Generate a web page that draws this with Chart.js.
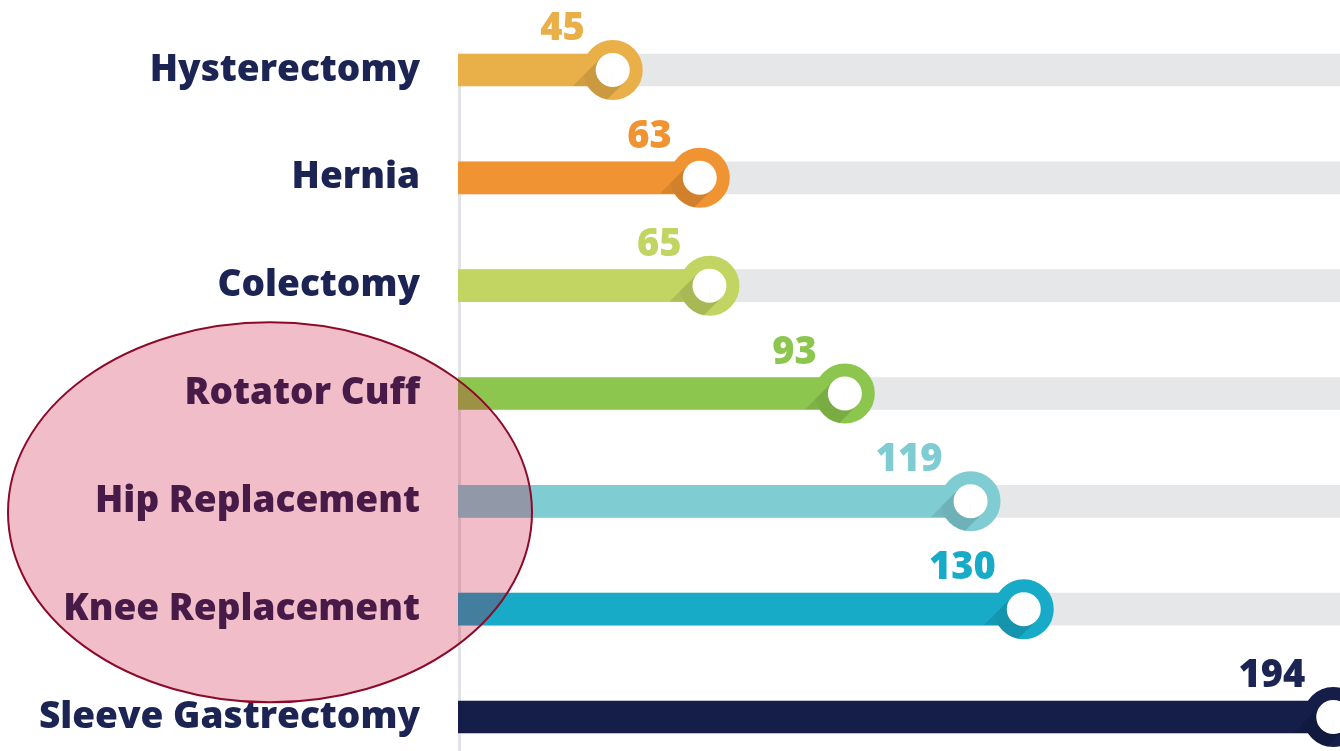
<!DOCTYPE html>
<html>
<head>
<meta charset="utf-8">
<style>
  html, body { margin: 0; padding: 0; background: #fff; overflow: hidden; }
  #wrap { position: relative; width: 1340px; height: 751px; }
</style>
<script src="https://cdn.jsdelivr.net/npm/chart.js@4.4.0/dist/chart.umd.min.js"></script>
</head>
<body>
<div id="wrap"><canvas id="chart"></canvas></div>
<script>
// ---------- DATA ----------
const procedures = ["Hysterectomy", "Hernia", "Colectomy", "Rotator Cuff", "Hip Replacement", "Knee Replacement", "Sleeve Gastrectomy"];
const cases = [45, 63, 65, 93, 119, 130, 194];
const barColors = ["#e9b04a", "#f09433", "#c2d461", "#8dc64f", "#7fcdd3", "#17abc7", "#141e48"];
const valueColors = ["#e9b04a", "#f09433", "#c2d461", "#8dc64f", "#7fcdd3", "#17abc7", "#1b2452"];
const highlighted = ["Rotator Cuff", "Hip Replacement", "Knee Replacement"];
const X_MIN = 13, X_MAX = 195.4;

const NAVY = "#1b2452";
const FONT = "'Open Sans'";
const RING_OUT = 30, RING_IN = 17;

// ---------- PLUGINS ----------
const axisLine = {
  id: "axisLine",
  beforeDatasetsDraw(chart) {
    const { ctx, chartArea } = chart;
    ctx.save();
    ctx.strokeStyle = "#e2e3e6";
    ctx.lineWidth = 3;
    ctx.beginPath();
    ctx.moveTo(chartArea.left + 1.5, chartArea.top);
    ctx.lineTo(chartArea.left + 1.5, chart.height);
    ctx.stroke();
    ctx.restore();
  }
};

const markerShade = {
  id: "markerShade",
  afterDatasetsDraw(chart) {
    const { ctx } = chart;
    const meta = chart.getDatasetMeta(2);
    meta.data.forEach(pt => {
      // shade inside the ring
      ctx.save();
      ctx.beginPath();
      ctx.arc(pt.x, pt.y, RING_OUT, 0, Math.PI * 2);
      ctx.arc(pt.x, pt.y, RING_IN, 0, Math.PI * 2, true);
      ctx.clip();
      ctx.translate(pt.x, pt.y);
      ctx.rotate(Math.PI * 0.75);
      ctx.fillStyle = "rgba(0,0,0,0.13)";
      ctx.fillRect(0, -RING_IN, 60, RING_IN * 2);
      ctx.restore();
      // shade spilling onto the bar
      ctx.save();
      ctx.beginPath();
      ctx.rect(pt.x - 80, pt.y - 16, 80, 32);
      ctx.arc(pt.x, pt.y, RING_OUT, 0, Math.PI * 2);
      ctx.clip("evenodd");
      ctx.beginPath();
      ctx.rect(pt.x - 80, pt.y - 16, 80, 32);
      ctx.clip();
      ctx.translate(pt.x, pt.y);
      ctx.rotate(Math.PI * 0.75);
      ctx.fillStyle = "rgba(0,0,0,0.10)";
      ctx.fillRect(0, -RING_IN, 60, RING_IN * 2);
      ctx.restore();
    });
  }
};

const valueLabels = {
  id: "valueLabels",
  afterDatasetsDraw(chart) {
    const { ctx } = chart;
    const meta = chart.getDatasetMeta(2);
    ctx.save();
    ctx.font = "800 38px " + FONT;
    ctx.textAlign = "right";
    ctx.textBaseline = "alphabetic";
    meta.data.forEach((pt, i) => {
      ctx.fillStyle = valueColors[i];
      ctx.fillText(String(cases[i]), pt.x - 28, pt.y - 30);
    });
    ctx.restore();
  }
};

// pink ellipse round the highlighted procedures
const highlight = {
  id: "highlight",
  afterDraw(chart) {
    const { ctx, chartArea, scales } = chart;
    const ys = highlighted.map(h => scales.y.getPixelForValue(procedures.indexOf(h)));
    const cy = (Math.min(...ys) + Math.max(...ys)) / 2 + 11;
    const cx = chartArea.left - 188;
    ctx.save();
    ctx.beginPath();
    ctx.ellipse(cx, cy, 262, 190, 0, 0, Math.PI * 2);
    ctx.fillStyle = "rgba(197,0,43,0.26)";
    ctx.fill();
    ctx.lineWidth = 2;
    ctx.strokeStyle = "#8b0a2a";
    ctx.stroke();
    ctx.restore();
  }
};

// ---------- CHART ----------
new Chart(document.getElementById("chart"), {
  type: "bar",
  data: {
    labels: procedures,
    datasets: [
      {
        label: "track",
        data: procedures.map(() => X_MAX),
        backgroundColor: "#e6e7e9",
        barThickness: 32,
        grouped: false,
        order: 3,
        clip: { left: 0, top: false, right: false, bottom: false }
      },
      {
        label: "cases",
        data: cases,
        backgroundColor: barColors,
        barThickness: 32,
        grouped: false,
        order: 2,
        clip: { left: 0, top: false, right: false, bottom: false }
      },
      {
        type: "line",
        label: "marker",
        data: cases,
        indexAxis: "y",
        showLine: false,
        pointRadius: (RING_OUT + RING_IN) / 2,
        pointHoverRadius: (RING_OUT + RING_IN) / 2,
        pointBorderWidth: RING_OUT - RING_IN,
        pointHoverBorderWidth: RING_OUT - RING_IN,
        pointBackgroundColor: "#ffffff",
        pointBorderColor: barColors,
        order: 1,
        clip: false
      }
    ]
  },
  options: {
    indexAxis: "y",
    responsive: true,
    maintainAspectRatio: false,
    animation: false,
    events: [],
    layout: { autoPadding: false, padding: { top: 70, bottom: 34, left: 0, right: 0 } },
    plugins: { legend: { display: false }, tooltip: { enabled: false } },
    scales: {
      x: { type: "linear", min: X_MIN, max: X_MAX, display: false },
      y: {
        offset: false,
        grid: { display: false, drawTicks: false },
        border: { display: false },
        ticks: { color: NAVY, padding: 38, font: { family: FONT, size: 37, weight: "800" } },
        afterFit(scale) {
          scale.width = 458;
          scale.paddingTop = 0;
          scale.paddingBottom = 0;
        }
      }
    }
  },
  plugins: [axisLine, markerShade, valueLabels, highlight]
});
</script>
</body>
</html>
